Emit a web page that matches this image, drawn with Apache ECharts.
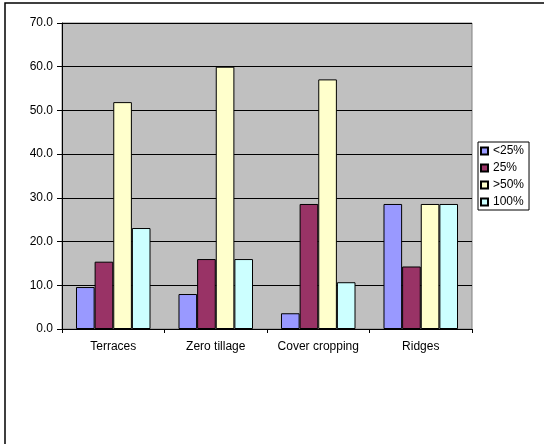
<!DOCTYPE html>
<html>
<head>
<meta charset="utf-8">
<script src="https://cdn.jsdelivr.net/npm/echarts@6/dist/echarts.min.js"></script>
<style>
  html, body { margin: 0; padding: 0; background: #fff; }
  #chart { width: 544px; height: 444px; }
</style>
</head>
<body>
<div id="chart"></div>
<script>
// Share of adopters (%) per conservation practice, by adoption level
const categories = ['Terraces', 'Zero tillage', 'Cover cropping', 'Ridges'];
const seriesNames = ['<25%', '25%', '>50%', '100%'];
const below25 = [9.6, 8.0, 3.6, 28.6];
const at25 = [15.4, 16.0, 28.6, 14.3];
const above50 = [51.9, 60.0, 57.1, 28.6];
const full100 = [23.1, 16.0, 10.7, 28.6];
const yTicks = [0, 10, 20, 30, 40, 50, 60, 70];

const seriesData = [below25, at25, above50, full100];
const colors = ['#9999FF', '#993366', '#FFFFCC', '#CCFFFF'];

const chart = echarts.init(document.getElementById('chart'), null, { renderer: 'canvas' });

const font = 'Liberation Sans, Arial, sans-serif';

chart.setOption({
  animation: false,
  backgroundColor: '#ffffff',
  graphic: [{
    type: 'rect',
    z: -1,
    shape: { x: 5, y: 3, width: 700, height: 700 },
    style: { fill: 'none', stroke: '#000', lineWidth: 1.5 }
  }],
  legend: {
    orient: 'vertical',
    left: 478,
    top: 142,
    padding: [3, 5, 2, 2],
    itemWidth: 7,
    itemHeight: 7,
    itemGap: 5,
    icon: 'rect',
    borderColor: '#000',
    borderWidth: 1,
    backgroundColor: '#ffffff',
    textStyle: { fontFamily: font, fontSize: 12, color: '#000', lineHeight: 12 },
    data: seriesNames
  },
  grid: {
    left: 62, right: 72, top: 23, bottom: 115,
    show: true,
    backgroundColor: '#C0C0C0',
    borderColor: '#808080',
    borderWidth: 1
  },
  xAxis: {
    type: 'category',
    data: categories,
    axisLine: { show: true, lineStyle: { color: '#000', width: 1 } },
    axisTick: { show: true, length: 4, lineStyle: { color: '#000' } },
    axisLabel: { fontFamily: font, fontSize: 12, color: '#000', margin: 12, interval: 0, hideOverlap: false },
    splitLine: { show: false }
  },
  yAxis: {
    type: 'value',
    min: yTicks[0],
    max: yTicks[yTicks.length - 1],
    interval: 10,
    axisLine: { show: true, lineStyle: { color: '#000', width: 1 } },
    axisTick: { show: true, length: 5, lineStyle: { color: '#000' } },
    axisLabel: {
      fontFamily: font, fontSize: 12, color: '#000', margin: 9,
      formatter: v => v.toFixed(1)
    },
    splitLine: { show: true, lineStyle: { color: '#000', width: 1 } }
  },
  series: seriesNames.map((name, i) => ({
    name,
    type: 'bar',
    data: seriesData[i],
    barGap: '0%',
    barCategoryGap: '27.3%',
    itemStyle: { color: colors[i], borderColor: '#000', borderWidth: 1 }
  }))
});
</script>
</body>
</html>
